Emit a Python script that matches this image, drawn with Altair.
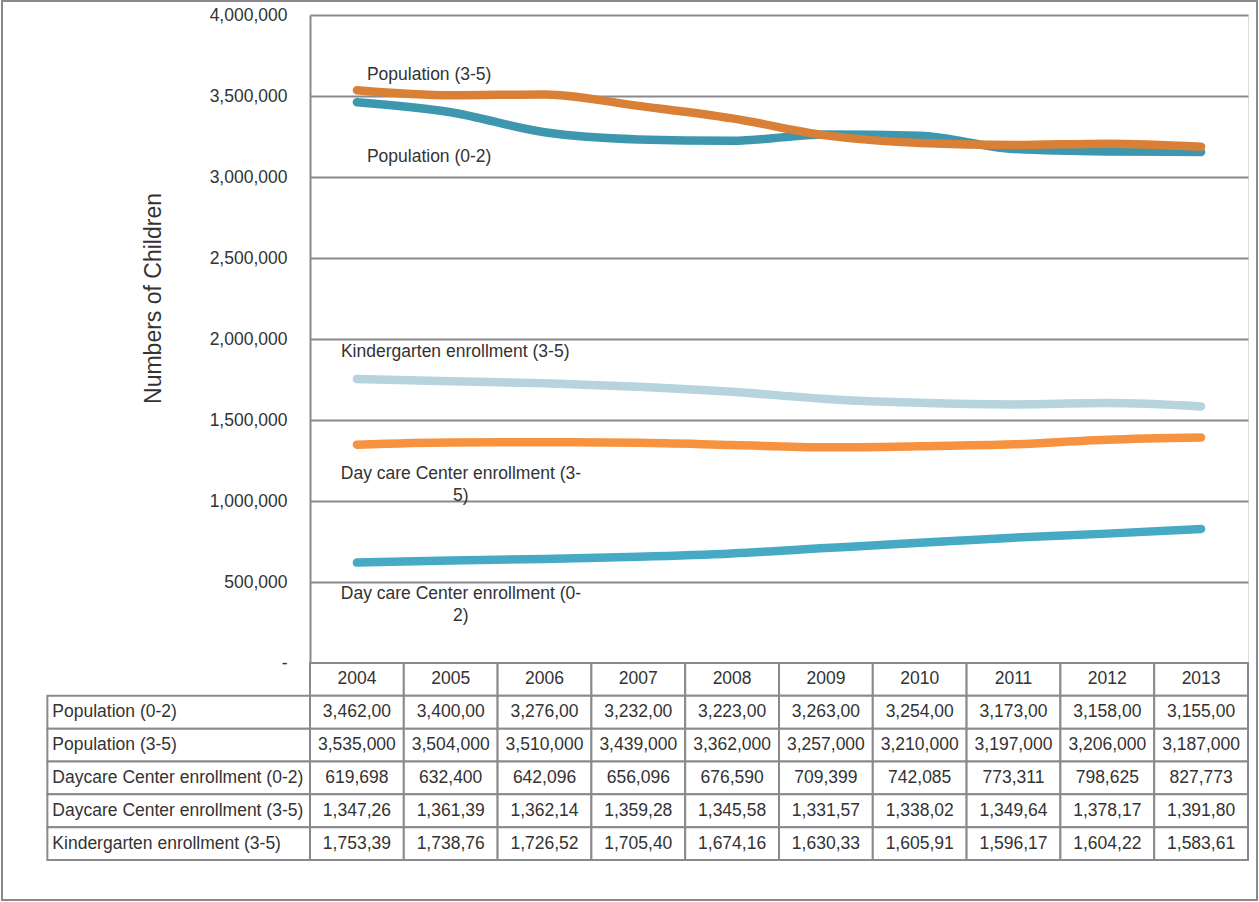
import altair as alt
import pandas as pd

# ---- data -------------------------------------------------------------
years = [2004, 2005, 2006, 2007, 2008, 2009, 2010, 2011, 2012, 2013]

series_names = [
    "Population (0-2)",
    "Population (3-5)",
    "Daycare Center enrollment (0-2)",
    "Daycare Center enrollment (3-5)",
    "Kindergarten enrollment (3-5)",
]

population_0_2 = [3462000, 3400000, 3276000, 3232000, 3223000,
                  3263000, 3254000, 3173000, 3158000, 3155000]
population_3_5 = [3535000, 3504000, 3510000, 3439000, 3362000,
                  3257000, 3210000, 3197000, 3206000, 3187000]
daycare_0_2 = [619698, 632400, 642096, 656096, 676590,
               709399, 742085, 773311, 798625, 827773]
daycare_3_5 = [1347260, 1361390, 1362140, 1359280, 1345580,
               1331570, 1338020, 1349640, 1378170, 1391800]
kindergarten_3_5 = [1753390, 1738760, 1726520, 1705400, 1674160,
                    1630330, 1605910, 1596170, 1604220, 1583610]

series_values = [population_0_2, population_3_5, daycare_0_2,
                 daycare_3_5, kindergarten_3_5]

# in-chart series labels
chart_labels = [
    "Population (0-2)",
    "Population (3-5)",
    "Day care Center enrollment (0-\n2)",
    "Day care Center enrollment (3-\n5)",
    "Kindergarten enrollment (3-5)",
]

# table rows whose numbers do not fit their cell and lose the last digit
clipped_rows = [True, False, False, True, True]

y_ticks = [0, 500000, 1000000, 1500000, 2000000,
           2500000, 3000000, 3500000, 4000000]

# ---- style ------------------------------------------------------------
FONT = "Liberation Sans"
TEXT = "#333333"
GRID = "#8a8a8e"
FS = 17.5
series_colors = ["#3d97af", "#da8036", "#47aac5", "#f79340", "#b6d3de"]
# label placement relative to the 2004 point: (dx, dy, align)
label_offsets = [(10, 55, "left"), (10, -15, "left"), (104, 31, "center"),
                 (104, 29, "center"), (-16, -27, "left")]
# draw order of the lines (last one on top)
draw_order = [4, 3, 2, 0, 1]

PLOT_W, PLOT_H = 938, 648
TABLE_BOTTOM = 845
LABEL_SPAN = 2.8  # width of the row-label column, in year columns

x_scale = alt.Scale(domain=[years[0] - 0.5, years[-1] + 0.5], nice=False, zero=False)
y_scale = alt.Scale(domain=[y_ticks[0], y_ticks[-1]], nice=False)
row_scale = alt.Scale(type="band", domain=["header"] + series_names,
                      range=[PLOT_H, TABLE_BOTTOM], paddingInner=0, paddingOuter=0)

y_axis = alt.Axis(
    values=y_ticks,
    labelExpr="datum.value == 0 ? '-\u00a0\u00a0' : format(datum.value, ',')",
    ticks=False,
    domain=True, domainColor=GRID, domainWidth=2,
    grid=True, gridColor=GRID, gridWidth=2,
    labelFont=FONT, labelFontSize=FS, labelColor=TEXT, labelPadding=23,
    labelBaseline="middle",
    title="Numbers of Children", titleFont=FONT, titleFontSize=23,
    titleFontWeight="normal", titleColor=TEXT, titleAngle=270,
    titleX=-157, titleY=283, titleAlign="center", titleBaseline="middle",
)


def x_enc(field="year"):
    return alt.X(f"{field}:Q", scale=x_scale, axis=None)


# ---- line plot --------------------------------------------------------
plot_layers = []
for i in draw_order:
    df = pd.DataFrame({"year": years, "value": series_values[i]})
    plot_layers.append(
        alt.Chart(df).mark_line(
            color=series_colors[i], strokeWidth=8.5, strokeCap="round",
            strokeJoin="round", interpolate="monotone",
        ).encode(x=x_enc(), y=alt.Y("value:Q", scale=y_scale, axis=y_axis))
    )

for i, name in enumerate(series_names):
    dx, dy, align = label_offsets[i]
    df = pd.DataFrame({"year": [years[0]], "value": [series_values[i][0]],
                       "label": [chart_labels[i]]})
    plot_layers.append(
        alt.Chart(df).mark_text(
            align=align, baseline="middle", dx=dx, dy=dy, font=FONT,
            fontSize=FS, color=TEXT, lineBreak="\n", lineHeight=22,
        ).encode(x=x_enc(), y=alt.Y("value:Q", scale=y_scale, axis=y_axis),
                 text="label:N")
    )

plot = alt.layer(*plot_layers)

# ---- data table -------------------------------------------------------
cells = []
for y in years:
    cells.append({"row": "header", "year": y, "text": str(y)})
for name, vals, clip in zip(series_names, series_values, clipped_rows):
    for y, v in zip(years, vals):
        s = f"{v:,}"
        cells.append({"row": name, "year": y, "text": s[:8] if clip else s})
cells_df = pd.DataFrame(cells)

row_labels_df = pd.DataFrame({
    "row": series_names,
    "x0": [years[0] - 0.5 - LABEL_SPAN] * len(series_names),
    "x1": [years[0] - 0.5] * len(series_names),
})

row_enc = alt.Y("row:N", scale=row_scale, axis=None)

cell_rects = alt.Chart(cells_df).transform_calculate(
    x0="datum.year - 0.5", x1="datum.year + 0.5"
).mark_rect(fill="white", stroke=GRID, strokeWidth=2).encode(
    x=x_enc("x0"), x2="x1:Q", y=row_enc
)
cell_text = alt.Chart(cells_df).mark_text(
    font=FONT, fontSize=FS, color=TEXT, baseline="middle"
).encode(x=x_enc(), y=row_enc, text="text:N")

label_rects = alt.Chart(row_labels_df).mark_rect(
    fill="white", stroke=GRID, strokeWidth=2
).encode(x=x_enc("x0"), x2="x1:Q", y=row_enc)
label_text = alt.Chart(row_labels_df).mark_text(
    font=FONT, fontSize=FS, color=TEXT, align="left", baseline="middle", dx=5
).encode(x=x_enc("x0"), y=row_enc, text="row:N")

table = alt.layer(cell_rects, label_rects, cell_text, label_text)

# ---- outer frame ------------------------------------------------------
frame = alt.Chart(pd.DataFrame({"k": [0]})).mark_rect(
    fill="transparent", stroke=GRID, strokeWidth=2
).encode(x=alt.value(-308), x2=alt.value(947), y=alt.value(-14), y2=alt.value(885))

chart = alt.layer(frame, plot, table).resolve_scale(y="independent").properties(
    width=PLOT_W, height=PLOT_H,
    padding={"left": 1, "top": 0, "right": 1, "bottom": 1},
    background="white",
).configure_view(stroke="transparent").configure(font=FONT)

chart.save("out.html", embed_options={"renderer": "svg", "actions": False})
